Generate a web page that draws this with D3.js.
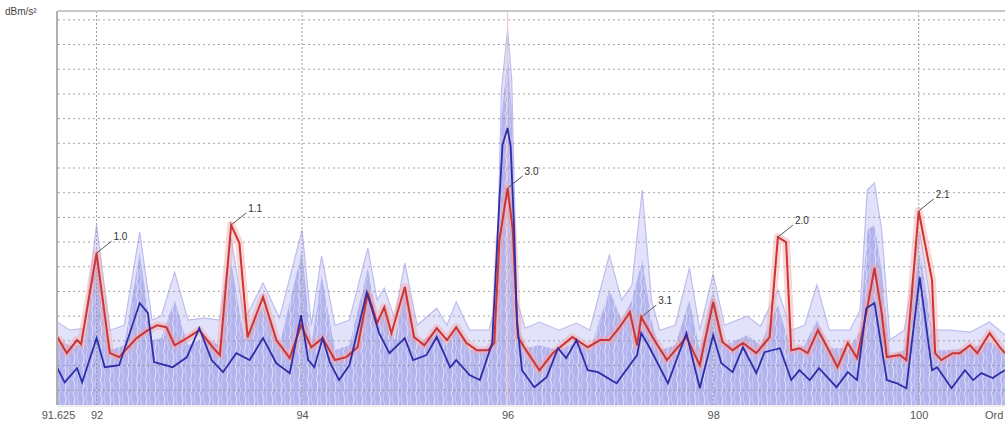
<!DOCTYPE html>
<html>
<head>
<meta charset="utf-8">
<script src="https://cdn.jsdelivr.net/npm/d3@7"></script>
<style>
  body { margin: 0; background: #fff; }
  svg { display: block; font-family: "Liberation Sans", Arial, sans-serif; }
</style>
</head>
<body>
<div id="chart"></div>
<script>
// order axis ticks
const tickOrders = [91.625, 92, 94, 96, 98, 100];
const gridOrders = [92, 94, 96, 98, 100];
const gridLevels = d3.range(0, 151, 10);

// selected run (red)
const redX = [91.62, 91.71, 91.81, 91.85, 92.00, 92.13, 92.22, 92.39, 92.50, 92.59, 92.68, 92.76, 92.88, 93.00, 93.13, 93.20, 93.31, 93.39, 93.47, 93.62, 93.75, 93.88, 93.99, 94.09, 94.20, 94.32, 94.43, 94.54, 94.64, 94.73, 94.80, 94.87, 95.00, 95.09, 95.19, 95.31, 95.41, 95.50, 95.60, 95.70, 95.81, 95.87, 95.92, 96.00, 96.05, 96.10, 96.18, 96.31, 96.44, 96.63, 96.78, 96.90, 96.99, 97.09, 97.19, 97.26, 97.30, 97.41, 97.55, 97.74, 97.87, 98.00, 98.09, 98.19, 98.29, 98.42, 98.55, 98.63, 98.71, 98.76, 98.84, 98.92, 99.02, 99.11, 99.21, 99.31, 99.40, 99.49, 99.57, 99.64, 99.69, 99.82, 99.88, 100.00, 100.13, 100.16, 100.22, 100.33, 100.40, 100.50, 100.57, 100.69, 100.79, 100.84];
const redY = [21.5, 15.0, 20.3, 18.6, 55.5, 15.0, 13.4, 21.1, 24.3, 26.3, 25.5, 18.2, 21.1, 24.3, 17.4, 14.2, 66.9, 59.6, 21.5, 37.7, 20.3, 13.0, 26.3, 17.4, 21.1, 12.2, 13.4, 17.4, 39.3, 27.2, 33.6, 23.1, 41.8, 21.5, 18.2, 25.1, 20.3, 25.5, 19.1, 16.2, 16.2, 19.1, 60.8, 81.9, 64.9, 21.5, 16.2, 8.1, 15.0, 21.5, 17.4, 20.3, 20.3, 25.5, 31.6, 18.2, 29.6, 21.5, 12.2, 21.5, 10.1, 35.7, 19.5, 16.2, 19.1, 15.0, 21.5, 62.0, 60.0, 16.2, 17.0, 15.0, 24.3, 17.4, 9.3, 19.1, 13.0, 31.2, 49.5, 31.2, 13.4, 14.2, 12.2, 72.6, 44.6, 15.0, 12.2, 15.0, 15.0, 18.2, 15.0, 23.1, 17.4, 15.0];

// average (dark blue)
const blueX = [91.62, 91.69, 91.81, 91.86, 92.00, 92.08, 92.22, 92.42, 92.50, 92.56, 92.74, 92.88, 93.00, 93.12, 93.23, 93.36, 93.49, 93.62, 93.75, 93.88, 93.99, 94.06, 94.12, 94.20, 94.27, 94.36, 94.46, 94.63, 94.75, 94.85, 95.00, 95.08, 95.21, 95.31, 95.44, 95.50, 95.63, 95.73, 95.85, 95.92, 95.95, 96.00, 96.03, 96.06, 96.09, 96.14, 96.26, 96.38, 96.49, 96.57, 96.67, 96.78, 96.88, 97.06, 97.26, 97.30, 97.38, 97.56, 97.74, 97.87, 98.00, 98.08, 98.19, 98.29, 98.42, 98.50, 98.65, 98.76, 98.84, 98.94, 99.03, 99.20, 99.31, 99.40, 99.49, 99.57, 99.69, 99.79, 99.88, 100.01, 100.13, 100.18, 100.32, 100.45, 100.53, 100.61, 100.72, 100.79, 100.84];
const blueY = [8.9, 3.2, 8.9, 3.2, 21.1, 9.3, 10.1, 35.3, 31.2, 11.4, 9.3, 13.4, 25.1, 12.2, 7.3, 15.0, 12.2, 21.1, 10.9, 6.9, 30.4, 12.2, 9.3, 21.1, 11.4, 4.1, 10.1, 39.7, 23.1, 15.0, 21.1, 12.2, 14.2, 21.5, 9.3, 12.2, 6.1, 4.1, 19.1, 77.0, 99.3, 106.2, 98.5, 68.9, 28.4, 8.1, 1.2, 5.3, 17.0, 13.0, 20.3, 8.1, 7.3, 2.8, 14.2, 23.1, 17.4, 2.8, 23.1, 0.8, 22.3, 10.9, 7.3, 17.4, 6.9, 15.4, 17.0, 4.1, 8.1, 4.1, 8.9, 1.2, 7.3, 4.1, 33.2, 35.3, 4.1, 2.8, 0.8, 45.8, 8.1, 9.3, 0.8, 8.1, 4.1, 6.9, 4.9, 6.9, 8.1];

// all other runs (light blue): outer max and dense envelope
const envX = [91.62, 91.74, 91.88, 92.00, 92.13, 92.27, 92.42, 92.54, 92.63, 92.76, 92.89, 93.05, 93.20, 93.31, 93.44, 93.62, 93.78, 94.00, 94.09, 94.19, 94.32, 94.46, 94.64, 94.73, 94.80, 94.90, 95.00, 95.12, 95.31, 95.41, 95.50, 95.63, 95.82, 95.89, 95.94, 96.00, 96.04, 96.09, 96.17, 96.31, 96.50, 96.67, 96.80, 96.99, 97.11, 97.21, 97.31, 97.40, 97.48, 97.63, 97.77, 97.87, 98.00, 98.11, 98.33, 98.46, 98.63, 98.76, 98.89, 99.01, 99.13, 99.33, 99.43, 99.50, 99.57, 99.64, 99.72, 99.86, 100.01, 100.16, 100.30, 100.50, 100.69, 100.84];
const envMax = [27.6, 24.3, 25.1, 66.9, 24.3, 26.3, 64.0, 28.4, 30.0, 47.8, 28.4, 29.2, 28.4, 61.6, 28.4, 43.4, 29.2, 64.9, 26.3, 54.3, 26.3, 28.4, 57.6, 36.5, 41.3, 29.2, 51.5, 26.3, 33.2, 26.3, 35.7, 24.3, 24.3, 36.5, 121.6, 145.9, 125.7, 36.5, 25.1, 27.6, 24.3, 27.2, 24.3, 54.7, 36.5, 42.6, 81.1, 36.5, 24.3, 26.3, 49.5, 24.3, 47.0, 26.3, 30.0, 25.9, 40.5, 24.3, 26.3, 42.6, 24.3, 24.3, 32.4, 81.1, 83.9, 64.9, 20.3, 24.3, 64.0, 24.3, 24.3, 23.5, 27.6, 22.3];
const envDense = [20.3, 18.2, 18.2, 56.7, 16.2, 18.2, 55.9, 20.3, 21.1, 36.5, 18.2, 21.1, 18.2, 51.9, 20.3, 34.5, 18.2, 56.7, 18.2, 46.6, 16.2, 18.2, 49.5, 28.4, 32.4, 20.3, 40.5, 18.2, 24.3, 18.2, 26.3, 16.2, 17.0, 28.4, 109.4, 135.8, 113.5, 28.4, 17.0, 18.2, 16.2, 19.5, 16.2, 40.5, 28.4, 36.5, 52.7, 28.4, 16.2, 18.2, 36.5, 16.2, 40.5, 18.2, 22.3, 18.2, 34.5, 16.2, 18.2, 28.4, 17.0, 17.0, 24.3, 64.9, 66.9, 48.6, 14.2, 16.2, 56.7, 16.2, 16.2, 17.0, 19.5, 16.2];

// peak labels
const peakNames = ["1.0", "1.1", "3.0", "3.1", "2.0", "2.1"];
const peakX = [92.00, 93.31, 96.00, 97.30, 98.63, 100.00];
const peakY = [55.5, 66.9, 81.9, 29.6, 62.0, 72.6];

let W = 1007, H = 427;
let plot = { left: 58, right: 1005, top: 11, bottom: 405 };

let svg = d3.select('#chart')
  .append('svg')
  .attr('width', W)
  .attr('height', H);

const x = d3.scaleLinear()
  .domain([91.625, 100.84])
  .range([plot.left, plot.right]);

const y = d3.scaleLinear()
  .domain([-6, 153.6])
  .range([plot.bottom, plot.top]);

let defs = svg.append('defs');
defs.append('clipPath').attr('id', 'clip')
  .append('rect')
  .attr('x', plot.left).attr('y', plot.top)
  .attr('width', plot.right - plot.left).attr('height', plot.bottom - plot.top);

// streaky texture so the filled band reads like many thin traces
let pat = defs.append('pattern')
  .attr('id', 'streaks')
  .attr('patternUnits', 'userSpaceOnUse')
  .attr('width', 9).attr('height', 14);
pat.append('rect').attr('width', 9).attr('height', 14).attr('fill', '#b3b3ee');
pat.append('path').attr('d', 'M1,0 L3,7 L2,14').attr('stroke', '#e6e6fb').attr('stroke-width', 0.9).attr('fill', 'none');
pat.append('path').attr('d', 'M6,0 L5,6 L7,14').attr('stroke', '#d2d2f6').attr('stroke-width', 0.8).attr('fill', 'none');

let g = svg.append('g').attr('clip-path', 'url(#clip)');

// ensemble fill
const env = envX.map((d, i) => ({ x: d, hi: envMax[i], mid: envDense[i] }));
g.append('path')
  .datum(env)
  .attr('fill', '#e2e2fa')
  .attr('d', d3.area().x(d => x(d.x)).y0(y(-6)).y1(d => y(d.hi)));
g.append('path')
  .datum(env)
  .attr('fill', 'url(#streaks)')
  .attr('d', d3.area().x(d => x(d.x)).y0(y(-6)).y1(d => y(d.mid)));
g.append('path')
  .datum(env)
  .attr('fill', 'none')
  .attr('stroke', '#bdbdf0')
  .attr('stroke-width', 1.2)
  .attr('d', d3.line().x(d => x(d.x)).y(d => y(d.hi)));

// grid
g.append('g')
  .selectAll('line')
  .data(gridLevels)
  .join('line')
  .attr('x1', plot.left).attr('x2', plot.right)
  .attr('y1', d => y(d)).attr('y2', d => y(d))
  .attr('stroke', '#8f8f8f')
  .attr('stroke-width', 1)
  .attr('stroke-dasharray', '2,3')
  .attr('opacity', 0.8);

g.append('g')
  .selectAll('line')
  .data(gridOrders)
  .join('line')
  .attr('x1', d => x(d)).attr('x2', d => x(d))
  .attr('y1', plot.top).attr('y2', plot.bottom)
  .attr('stroke', d => d == 96 ? '#eec4c4' : '#9a9a9a')
  .attr('stroke-width', 1)
  .attr('stroke-dasharray', d => d == 96 ? null : '2,2');

// red run with pink halo
const red = redX.map((d, i) => ({ x: d, y: redY[i] }));
const line = d3.line().x(d => x(d.x)).y(d => y(d.y));
g.append('path')
  .datum(red)
  .attr('fill', 'none')
  .attr('stroke', '#f4a6a6')
  .attr('stroke-width', 8)
  .attr('stroke-linejoin', 'round')
  .attr('opacity', 0.45)
  .attr('d', line);
g.append('path')
  .datum(red)
  .attr('fill', 'none')
  .attr('stroke', '#cc3535')
  .attr('stroke-width', 2)
  .attr('d', line);

// dark blue average
const blue = blueX.map((d, i) => ({ x: d, y: blueY[i] }));
g.append('path')
  .datum(blue)
  .attr('fill', 'none')
  .attr('stroke', '#2e2ea8')
  .attr('stroke-width', 1.8)
  .attr('d', line);

// frame
svg.append('line')
  .attr('x1', plot.left).attr('x2', plot.right)
  .attr('y1', plot.top).attr('y2', plot.top)
  .attr('stroke', '#c8c8c8').attr('stroke-width', 2);
svg.append('line')
  .attr('x1', plot.left - 1).attr('x2', plot.left - 1)
  .attr('y1', plot.top).attr('y2', plot.bottom)
  .attr('stroke', '#b0b0b0').attr('stroke-width', 2);
svg.append('line')
  .attr('x1', plot.left).attr('x2', plot.right)
  .attr('y1', plot.bottom + 1).attr('y2', plot.bottom + 1)
  .attr('stroke', '#dcdcdc').attr('stroke-width', 1);

// peak labels
const peaks = svg.append('g');
peakNames.forEach((name, i) => {
  let px = x(peakX[i]), py = y(peakY[i]);
  peaks.append('line')
    .attr('x1', px).attr('y1', py)
    .attr('x2', px + 15).attr('y2', py - 12)
    .attr('stroke', '#555').attr('stroke-width', 1);
  peaks.append('text')
    .attr('x', px + 17).attr('y', py - 13)
    .attr('font-size', 10)
    .attr('fill', '#333')
    .text(name);
});

// x axis
const xAxis = svg.append('g')
  .attr('transform', `translate(0, ${plot.bottom})`)
  .call(d3.axisBottom(x).tickValues(tickOrders).tickSize(0).tickPadding(6)
    .tickFormat(d => d == 91.625 ? '91.625' : d3.format('d')(d)));
xAxis.select('.domain').remove();
xAxis.selectAll('text')
  .attr('font-size', 11)
  .attr('fill', '#555');

svg.append('text')
  .attr('x', 985).attr('y', plot.bottom + 6)
  .attr('dy', '0.71em')
  .attr('font-size', 11)
  .attr('fill', '#555')
  .text('Ord');

// y unit
svg.append('text')
  .attr('x', 5).attr('y', 15)
  .attr('font-size', 10)
  .attr('fill', '#444')
  .text('dBm/s²');
</script>
</body>
</html>
